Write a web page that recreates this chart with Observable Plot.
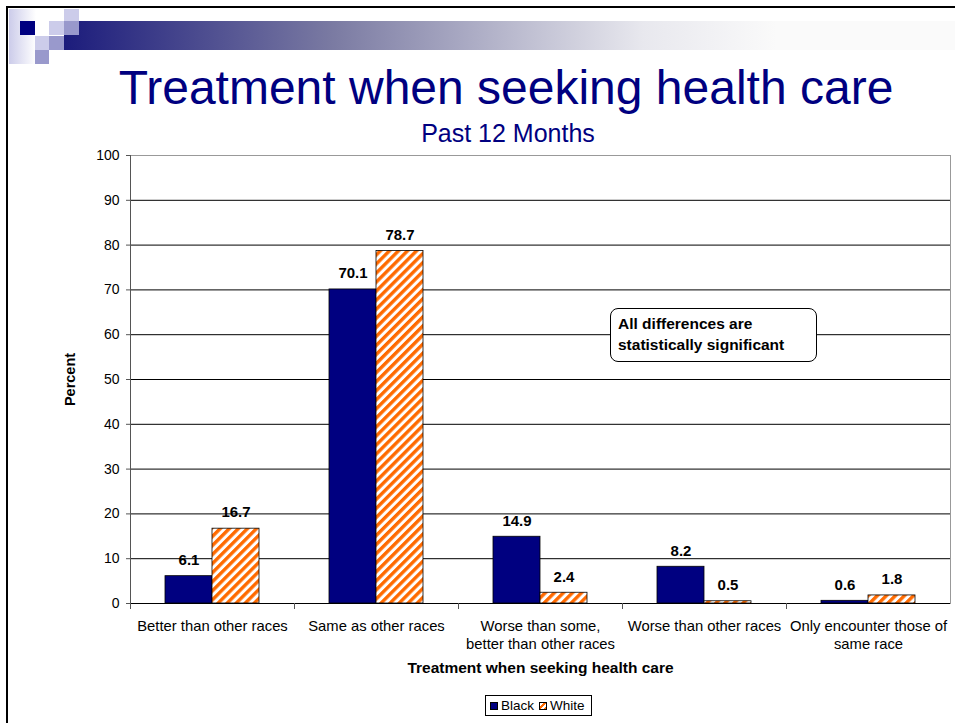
<!DOCTYPE html>
<html><head><meta charset="utf-8">
<script src="https://cdn.jsdelivr.net/npm/d3@7"></script>
<script src="https://cdn.jsdelivr.net/npm/@observablehq/plot@0.6"></script>
<style>
html,body{margin:0;padding:0}
body{width:955px;height:723px;overflow:hidden;background:#fff;font-family:"Liberation Sans",Arial,sans-serif;position:relative}
.abs{position:absolute}
.lav{background:#ccccea}
.med{background:#9999cc}
#title{left:60px;width:892px;top:64px;height:48px;line-height:48px;font-size:48px;color:#000080;text-align:center;white-space:nowrap}
#subtitle{left:60px;width:896px;top:121px;height:25px;line-height:25px;font-size:25px;color:#000080;text-align:center}
#note{left:610px;top:308px;width:207px;height:54px;border:1px solid #000;border-radius:8px;background:#fff;font-weight:bold;font-size:15.5px;line-height:21px;padding:4px 0 0 7px;box-sizing:border-box;white-space:nowrap}
#legend{left:485px;top:695px;width:107px;height:21px;border:1px solid #000;box-sizing:border-box;font-size:13.5px;display:flex;align-items:center;padding-left:4px;background:#fff}
.sw{width:8px;height:8px;border:1px solid #000;box-sizing:border-box;margin-right:3px}
#chart{left:0;top:140px}
</style></head><body>
<div class="abs" style="left:6px;top:6px;width:949px;height:2px;background:#000"></div>
<div class="abs" style="left:6px;top:6px;width:2px;height:717px;background:#000"></div>
<div class="abs" style="left:9px;top:9px;width:27px;height:55px;background:linear-gradient(to right,#ccccea,#fff)"></div>
<div class="abs" style="left:64px;top:21px;width:891px;height:29px;background:linear-gradient(to right,#1c1c7c 0%,#7a7aa2 30%,#e8e8ee 65%,#fafafa 80%,#fafafa 100%)"></div>
<div class="abs lav" style="left:64px;top:9px;width:15px;height:12px"></div>
<div class="abs" style="left:20px;top:21px;width:15px;height:14px;background:#000080"></div>
<div class="abs lav" style="left:49px;top:21px;width:15px;height:14px"></div>
<div class="abs med" style="left:64px;top:21px;width:15px;height:14px"></div>
<div class="abs lav" style="left:35px;top:36px;width:14px;height:14px"></div>
<div class="abs med" style="left:49px;top:36px;width:15px;height:14px"></div>
<div class="abs med" style="left:35px;top:50px;width:14px;height:14px"></div>
<div id="title" class="abs">Treatment when seeking health care</div>
<div id="subtitle" class="abs">Past 12 Months</div>
<div id="chart" class="abs"></div>
<div id="note" class="abs">All differences are<br>statistically significant</div>
<div id="legend" class="abs"><span class="sw" style="background:#000080"></span><span style="margin-right:5px">Black</span><span class="sw" style="background:repeating-linear-gradient(-45deg,#ff6a00 0 2px,#fff 2px 4px)"></span><span>White</span></div>
<script>
const categories = ["Better than other races", "Same as other races", "Worse than some,\nbetter than other races", "Worse than other races", "Only encounter those of\nsame race"];
const seriesNames = ["Black", "White"];
const blackValues = [6.1, 70.1, 14.9, 8.2, 0.6];
const whiteValues = [16.7, 78.7, 2.4, 0.5, 1.8];
const yTicks = [0, 10, 20, 30, 40, 50, 60, 70, 80, 90, 100];
const xTitle = "Treatment when seeking health care";
const yTitle = "Percent";

const black = categories.map((c, i) => ({category: c, series: seriesNames[0], value: blackValues[i]}));
const white = categories.map((c, i) => ({category: c, series: seriesNames[1], value: whiteValues[i]}));

const plot = Plot.plot({
  width: 955, height: 540,
  marginTop: 15, marginBottom: 77, marginLeft: 130, marginRight: 5,
  style: {fontFamily: "Liberation Sans, Arial, sans-serif", fontSize: "13px", color: "#000", background: "transparent", overflow: "visible"},
  x: {domain: categories, padding: 0, label: null},
  y: {domain: [0, 100], label: null},
  marks: [
    Plot.frame({stroke: "#999"}),
    Plot.ruleY(yTicks.filter(d => d > 0 && d < 100), {stroke: "#000"}),
    Plot.barY(black, {x: "category", y: "value", fill: "#000080", stroke: "#000", strokeWidth: 0.8, insetLeft: 35, insetRight: 82}),
    Plot.barY(white, {x: "category", y: "value", fill: "url(#hatch)", stroke: "#000", strokeWidth: 0.8, insetLeft: 82, insetRight: 35}),
    Plot.ruleY([0], {stroke: "#000"}),
    Plot.ruleX([categories[0]], {dx: -82, stroke: "#555"}),
    Plot.axisY(yTicks, {tickSize: 4, tickPadding: 7, fontSize: 14, label: null, stroke: "#555"}),
    Plot.axisX({tickSize: 6, dx: -82, tickFormat: () => "", label: null, stroke: "#555"}),
    Plot.axisX({tickSize: 0, tickPadding: 15, fontSize: 14.8, lineHeight: 1.22, label: null}),
    Plot.text(black, {x: "category", y: "value", text: d => d.value.toFixed(1), dx: -23.5, dy: -16, fontWeight: "bold", fontSize: 15}),
    Plot.text(white, {x: "category", y: "value", text: d => d.value.toFixed(1), dx: 23.5, dy: -16, fontWeight: "bold", fontSize: 15}),
    Plot.text([xTitle], {text: d => d, frameAnchor: "bottom", dy: 69, fontWeight: "bold", fontSize: 15.5}),
    Plot.text([yTitle], {text: d => d, frameAnchor: "left", textAnchor: "middle", dx: -60, rotate: -90, fontWeight: "bold", fontSize: 14.5})
  ]
});

const svg = d3.select(plot);
const defs = svg.insert("defs", ":first-child");
const pat = defs.append("pattern").attr("id", "hatch").attr("patternUnits", "userSpaceOnUse")
  .attr("width", 6.4).attr("height", 6.4).attr("patternTransform", "rotate(45)");
pat.append("rect").attr("width", 6.4).attr("height", 6.4).attr("fill", "#fff");
pat.append("rect").attr("width", 3.4).attr("height", 6.4).attr("fill", "#ff6a00");

document.getElementById("chart").appendChild(plot);
</script>
</body></html>
